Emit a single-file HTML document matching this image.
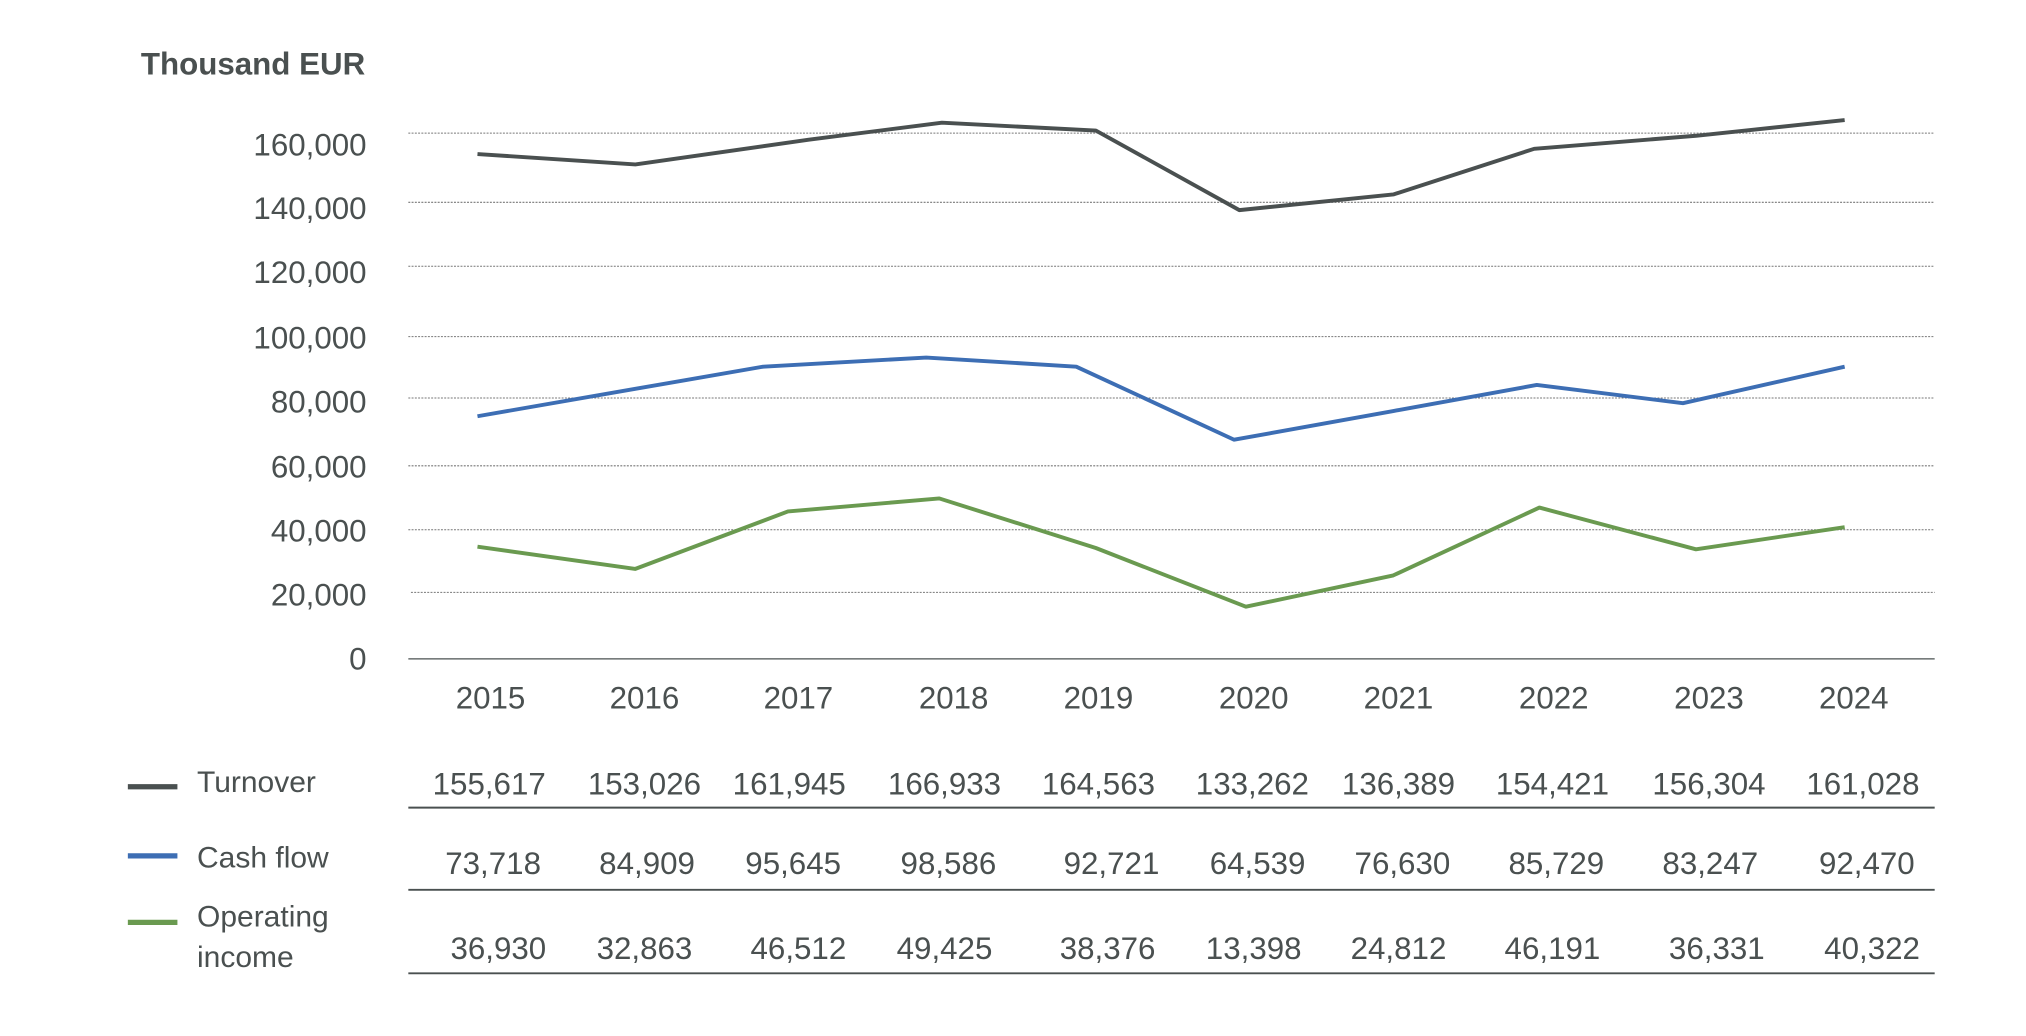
<!DOCTYPE html>
<html><head><meta charset="utf-8"><style>
html,body{margin:0;padding:0;background:#fff;}
svg{display:block}
text{font-family:"Liberation Sans",sans-serif;fill:#4a5050;}
</style></head><body>
<svg width="2026" height="1036" viewBox="0 0 1553 794" xmlns="http://www.w3.org/2000/svg">
<text x="108" y="57" font-size="24" font-weight="bold" style="fill:#4a5050">Thousand EUR</text>
<g stroke="#777" stroke-width="0.8" stroke-dasharray="1.5,1">
<line x1="313" x2="1483" y1="102" y2="102"/>
<line x1="313" x2="1483" y1="155" y2="155"/>
<line x1="313" x2="1483" y1="204" y2="204"/>
<line x1="313" x2="1483" y1="258" y2="258"/>
<line x1="313" x2="1483" y1="305" y2="305"/>
<line x1="313" x2="1483" y1="357" y2="357"/>
<line x1="313" x2="1483" y1="406" y2="406"/>
<line x1="315" x2="1483" y1="454" y2="454"/>
</g>
<line x1="313" x2="1483" y1="505" y2="505" stroke="#4a5050" stroke-width="1"/>
<g font-size="24" text-anchor="end">
<text x="281" y="119">160,000</text>
<text x="281" y="168">140,000</text>
<text x="281" y="217">120,000</text>
<text x="281" y="267">100,000</text>
<text x="281" y="316">80,000</text>
<text x="281" y="366">60,000</text>
<text x="281" y="415">40,000</text>
<text x="281" y="464">20,000</text>
<text x="281" y="513">0</text>
</g>
<g font-size="24" text-anchor="middle">
<text x="376" y="543">2015</text><text x="494" y="543">2016</text><text x="612" y="543">2017</text>
<text x="731" y="543">2018</text><text x="842" y="543">2019</text><text x="961" y="543">2020</text>
<text x="1072" y="543">2021</text><text x="1191" y="543">2022</text><text x="1310" y="543">2023</text>
<text x="1421" y="543">2024</text>
</g>
<g fill="none" stroke-width="3" stroke-linejoin="round">
<polyline stroke="#4a5050" points="366,118 487,126 620,107 722,94 840,100 950,161 1068,149 1176,114 1300,104 1414,92"/>
<polyline stroke="#3d6eb4" points="366,319 487,298 585,281 710,274 825,281 946,337 1068,315 1178,295 1290,309 1414,281"/>
<polyline stroke="#6a9a50" points="366,419 487,436 604,392 720,382 840,420 955,465 1068,441 1180,389 1300,421 1414,404"/>
</g>
<g stroke-width="4">
<line x1="98" x2="136" y1="603" y2="603" stroke="#4a5050"/>
<line x1="98" x2="136" y1="656" y2="656" stroke="#3d6eb4"/>
<line x1="98" x2="136" y1="707" y2="707" stroke="#6a9a50"/>
</g>
<g font-size="23">
<text x="151" y="607">Turnover</text>
<text x="151" y="665">Cash flow</text>
<text x="151" y="710">Operating</text>
<text x="151" y="741">income</text>
</g>
<g stroke="#4a5050" stroke-width="1.5">
<line x1="313" x2="1483" y1="619" y2="619"/>
<line x1="313" x2="1483" y1="682" y2="682"/>
<line x1="313" x2="1483" y1="746" y2="746"/>
</g>
<g font-size="24" text-anchor="middle">
<text x="375" y="609">155,617</text><text x="494" y="609">153,026</text><text x="605" y="609">161,945</text>
<text x="724" y="609">166,933</text><text x="842" y="609">164,563</text><text x="960" y="609">133,262</text>
<text x="1072" y="609">136,389</text><text x="1190" y="609">154,421</text><text x="1310" y="609">156,304</text>
<text x="1428" y="609">161,028</text>
<text x="378" y="670">73,718</text><text x="496" y="670">84,909</text><text x="608" y="670">95,645</text>
<text x="727" y="670">98,586</text><text x="852" y="670">92,721</text><text x="964" y="670">64,539</text>
<text x="1075" y="670">76,630</text><text x="1193" y="670">85,729</text><text x="1311" y="670">83,247</text>
<text x="1431" y="670">92,470</text>
<text x="382" y="735">36,930</text><text x="494" y="735">32,863</text><text x="612" y="735">46,512</text>
<text x="724" y="735">49,425</text><text x="849" y="735">38,376</text><text x="961" y="735">13,398</text>
<text x="1072" y="735">24,812</text><text x="1190" y="735">46,191</text><text x="1316" y="735">36,331</text>
<text x="1435" y="735">40,322</text>
</g>
</svg>
</body></html>
